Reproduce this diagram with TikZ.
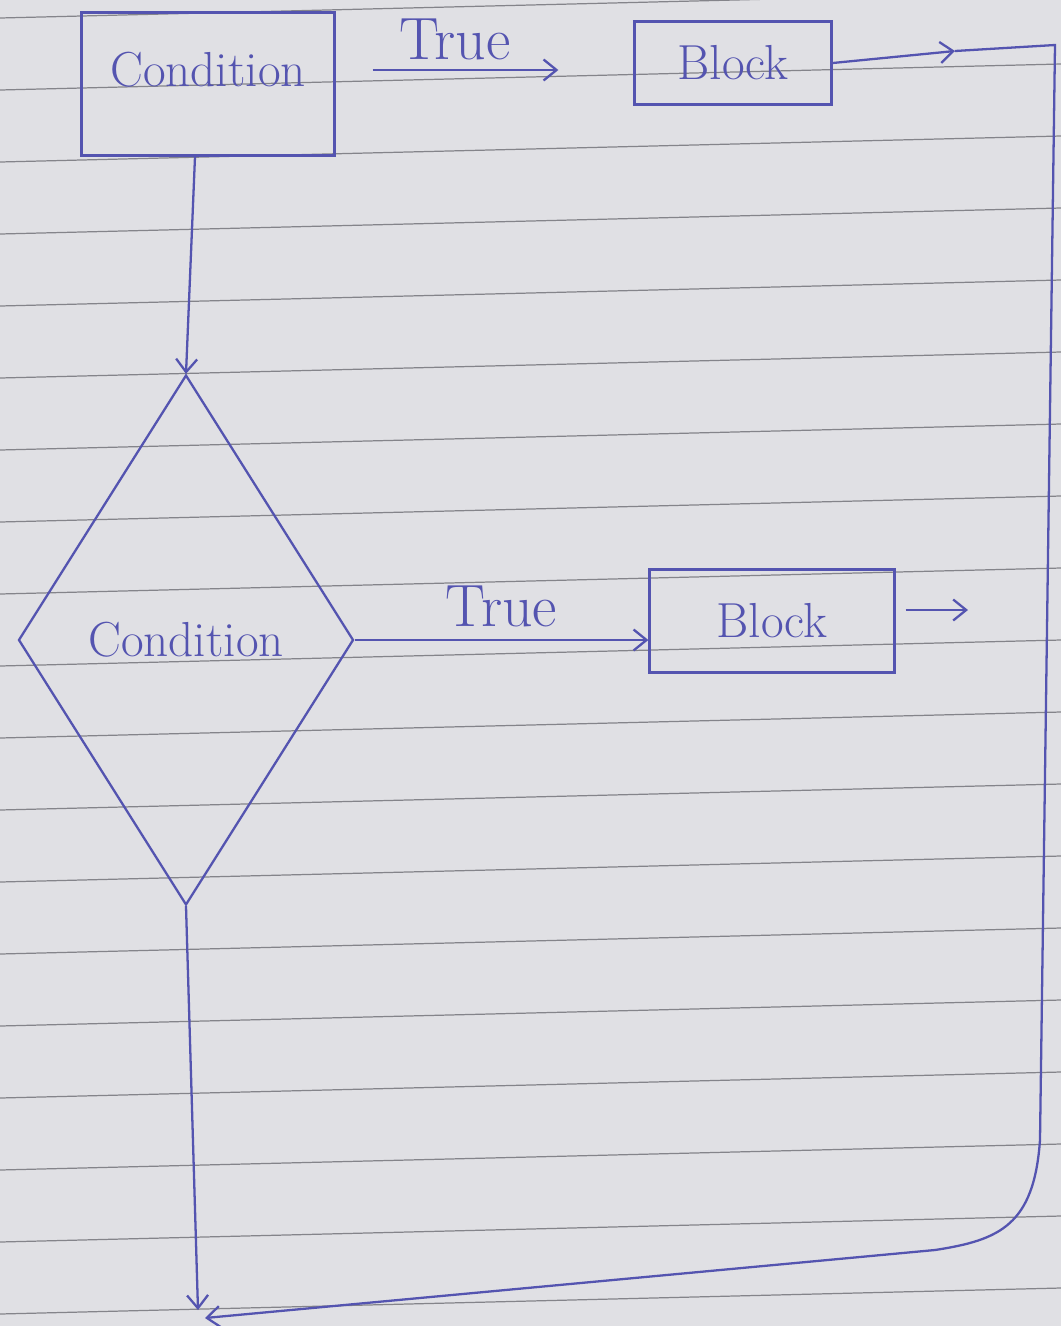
\documentclass[tikz,border=0pt]{standalone}
\usetikzlibrary{arrows.meta,positioning,shapes.geometric}
\definecolor{Ink}{RGB}{84,84,176}
\definecolor{Paper}{RGB}{224,224,228}
\definecolor{RuleGrey}{RGB}{132,132,138}

\begin{document}
\begin{tikzpicture}[
        x=0.2mm, y=-0.2mm,
        font=\fontsize{28}{30}\selectfont,
        st/.style={draw=Ink, text=Ink, line width=1.3pt, inner sep=2pt},
        dec/.style={diamond, draw=Ink, text=Ink, line width=1.3pt, inner sep=0pt,
                    minimum width=67mm, minimum height=106mm},
        e/.style={-{Straight Barb[length=2.6mm, width=4.2mm]}, line width=1.3pt, Ink},
        lbl/.style={text=Ink, font=\fontsize{34}{36}\selectfont, inner sep=1pt},
        rule/.style={RuleGrey, line width=0.7pt}
      ]
        \useasboundingbox[fill=Paper] (0,0) rectangle (1061,1326);
        \foreach \k in {0,...,18}
          \draw[rule] (0,{18+72*\k}) -- (1061,{-8+72*\k});

        \node[st, minimum width=50.6mm, minimum height=28.6mm,
              text height=7mm, text depth=6mm] (cond) at (208,84) {Condition};
        \node[st, minimum width=39.4mm, minimum height=16.6mm] (blk1) at (733,63) {Block};
        \node[dec] (dec) at (186,640) {Condition};
        \node[st, minimum width=49mm, minimum height=20.6mm] (blk2) at (772,621) {Block};

        \coordinate (tip1)  at (955,51);
        \coordinate (turn)  at (1055,45);
        \coordinate (bend)  at (1040,1140);
        \coordinate (merge) at (205,1318);
        \coordinate (down)  at (198,1310);
        \coordinate (out2)  at (968,610);

        \draw[e, shorten <=7.4mm, shorten >=15mm] (cond.east |- 0,70) -- (blk1.west |- 0,70)
              node[lbl, pos=0.4, above=4pt] {True};
        \draw[e] ([xshift=-2.6mm]cond.south) -- (dec.north);
        \draw[e] (blk1.east) -- (tip1);
        \draw[e] (tip1) -- (turn) -- (bend)
              .. controls (1034,1225) and (1000,1240) .. (935,1250) -- (merge);
        \draw[e] (dec.east) -- (dec.east -| blk2.west)
              node[lbl, midway, above=6pt] {True};
        \draw[e] ([xshift=2mm]blk2.east |- out2) -- (out2);
        \draw[e] (dec.south) -- (down);
      \end{tikzpicture}
\end{document}
